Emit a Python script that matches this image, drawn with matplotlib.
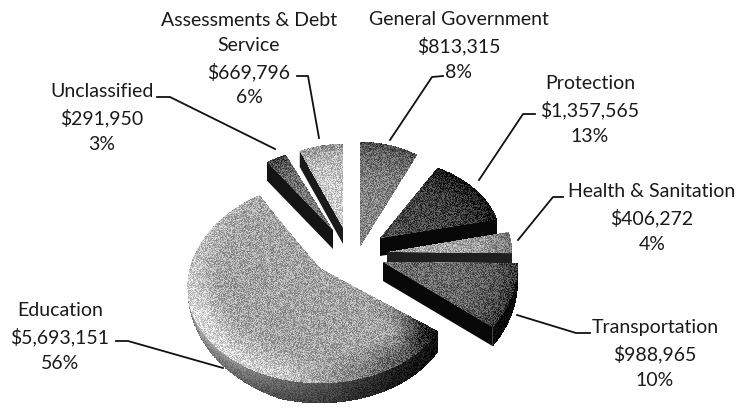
import numpy as np
import matplotlib
matplotlib.use("Agg")
import matplotlib.pyplot as plt

names = ['General Government', 'Protection', 'Health & Sanitation', 'Transportation',
         'Education', 'Unclassified', 'Assessments & Debt\nService']
amounts = [813315, 1357565, 406272, 988965, 5693151, 291950, 669796]
percents = ['8%', '13%', '4%', '10%', '56%', '3%', '6%']

# where each slice sits once exploded, in pixels
apex_x = [360, 380, 387, 383, 320, 333, 343]
apex_y = [247, 238, 252, 262, 268, 230, 228]
radius_x = [119, 120, 125, 135, 130, 118, 108]
radius_y = [105, 80, 85, 112, 100, 82, 84]
persp_x = [0, 0, 0, 0, 0.2, 0, 0]
persp_y = [0, 0, 0, 0, 0.15, 0, 0]
wall_depth = [0, 18, 10, 19, 20, 19, 16]
base_grey = [0.52, 0.27, 0.66, 0.42, 0.64, 0.46, 0.80]
wall_grey = [0.2, 0.03, 0.12, 0.03, 0.3, 0.08, 0.1]

label_x = [459, 590, 652, 655, 60, 102, 249]
label_y = [46, 110, 218, 354, 337, 118, 59]
leaders = [
    [(443, 76), (432, 77), (390, 140)],
    [(535, 114), (523, 114), (479, 180)],
    [(563, 197), (553, 197), (518, 240)],
    [(590, 333), (576, 333), (517, 315)],
    [(116, 341), (128, 341), (223, 368)],
    [(157, 97), (170, 97), (275, 149)],
    [(297, 76), (308, 76), (319, 138)],
]

fractions = np.array(amounts) / sum(amounts)
edges = np.concatenate([[0], np.cumsum(fractions)]) * 2 * np.pi


def project(i, r, t, drop=0):
    v = -r * np.cos(t)
    x = apex_x[i] + radius_x[i] * r * np.sin(t) * (1 + persp_x[i] * v)
    y = apex_y[i] + radius_y[i] * v * (1 + persp_y[i] * v) + drop
    return x, y


def grain(x, y, values, amp):
    # scanned look: a grain tied to the pixel, not to the mesh
    px, py = np.floor(x), np.floor(y)
    n = np.sin(px * 12.9898 + py * 78.233) * 43758.5453
    n = n - np.floor(n)
    return np.clip(values + amp * (n - 0.5) * 2, 0, 1)


def top_shade(i, r, t):
    s = np.full(r.shape, base_grey[i])
    deg = np.degrees(t)
    if i == 4:
        band = np.clip((r - 0.76) / 0.2, 0, 1)
        rim = np.interp(deg, [126, 140, 165, 195, 240, 280, 326], [0.12, 0.3, 0.5, 0.8, 0.88, 0.74, 0.66])
        s = s * (1 - band) + rim * band
        near_edge = np.clip((140 - deg) / 14, 0, 1) * np.clip((r - 0.5) / 0.5, 0, 1)
        s = s * (1 - 0.6 * near_edge)
    else:
        s = s - 0.22 * r ** 5
    return s


def draw_mesh(ax, x, y, c, amp, z):
    ax.pcolormesh(x, y, grain(x, y, c, amp), shading='auto', cmap='gray', vmin=0, vmax=1,
                  antialiased=False, rasterized=True, zorder=z)


def draw_slice(ax, i):
    t0, t1 = edges[i], edges[i + 1]
    d = wall_depth[i]
    if d:
        tw = np.linspace(t0, t1, 500)
        T, F = np.meshgrid(tw, np.linspace(0, 1, 40))
        deg = np.degrees(T)
        if i == 4:
            # the rim wall of the big slice fades out towards the left
            Z = F * d * np.clip((265 - deg) / 70, 0, 1)
            C = np.interp(deg, [126, 150, 175, 205, 235, 285], [0.06, 0.12, 0.3, 0.5, 0.7, 0.78])
            C = C * (1 - 0.3 * F)
        else:
            Z = F * d
            C = np.full(T.shape, wall_grey[i])
        X, Y = project(i, np.ones_like(T), T, Z)
        draw_mesh(ax, X, Y, C, 0.08, 2 + i * 0.01)
        # cut face, on the side that faces the viewer
        if i != 4:
            t_cut = t0 if i >= 5 else t1
            rr = np.linspace(0, 1, 30)
            xa, ya = project(i, rr, np.full(30, t_cut))
            xb, yb = project(i, rr, np.full(30, t_cut), d)
            ax.fill(np.r_[xa, xb[::-1]], np.r_[ya, yb[::-1]], color=str(wall_grey[i]), lw=0, zorder=2.5)
    rr = np.linspace(0, 1, 260)
    tt = np.linspace(t0, t1, max(60, int((t1 - t0) * 260)))
    T, R = np.meshgrid(tt, rr)
    X, Y = project(i, R, T)
    draw_mesh(ax, X, Y, top_shade(i, R, T), 0.18, 3 + i * 0.01)


fig = plt.figure(figsize=(7.39, 4.07), dpi=100)
ax = fig.add_axes([0, 0, 1, 1])
ax.set_xlim(0, 739)
ax.set_ylim(407, 0)
ax.axis('off')

for i in range(len(amounts)):
    draw_slice(ax, i)

for i in range(len(amounts)):
    pts = leaders[i]
    ax.plot([p[0] for p in pts], [p[1] for p in pts], color='#111111', lw=1.3, zorder=5)
    txt = f"{names[i]}\n${amounts[i]:,}\n{percents[i]}"
    ax.text(label_x[i], label_y[i], txt, ha='center', va='center', family='Lato',
            fontsize=14, color='#1a1a1a', linespacing=1.58, zorder=6)

fig.savefig('out.png', dpi=100)
